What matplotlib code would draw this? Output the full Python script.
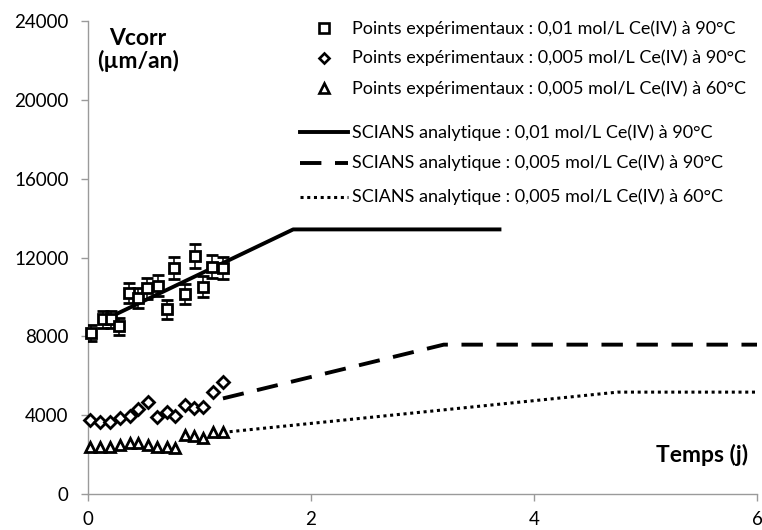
import matplotlib
matplotlib.use("Agg")
import matplotlib.pyplot as plt

plt.rcParams['font.family'] = ['Lato', 'DejaVu Sans']

# Experimental points
t_sq = [0.03, 0.13, 0.21, 0.28, 0.37, 0.45, 0.53, 0.63, 0.71, 0.77, 0.87, 0.96, 1.03, 1.11, 1.21]
v_sq = [8190, 8860, 8860, 8520, 10180, 9960, 10440, 10570, 9370, 11480, 10150, 12080, 10520, 11530, 11480]
e_sq = [410, 440, 440, 430, 510, 500, 520, 530, 470, 570, 510, 600, 530, 580, 570]

t_di = [0.02, 0.11, 0.20, 0.29, 0.38, 0.45, 0.54, 0.62, 0.71, 0.78, 0.87, 0.95, 1.03, 1.12, 1.21]
v_di = [3760, 3670, 3670, 3840, 3960, 4300, 4690, 3920, 4180, 3960, 4520, 4350, 4400, 5190, 5670]

t_tr = [0.02, 0.11, 0.20, 0.29, 0.38, 0.45, 0.54, 0.62, 0.71, 0.78, 0.87, 0.95, 1.03, 1.12, 1.21]
v_tr = [2400, 2400, 2400, 2490, 2570, 2570, 2490, 2370, 2370, 2320, 2990, 2940, 2830, 3160, 3160]

# Analytical model (SCIANS)
t_m1 = [0.26, 1.84, 3.69]
v_m1 = [9150, 13430, 13430]
t_m2 = [1.21, 3.19, 6.0]
v_m2 = [4850, 7580, 7580]
t_m3 = [1.27, 4.75, 6.0]
v_m3 = [3160, 5170, 5170]

legend_labels = [
    "Points expérimentaux : 0,01 mol/L Ce(IV) à 90°C",
    "Points expérimentaux : 0,005 mol/L Ce(IV) à 90°C",
    "Points expérimentaux : 0,005 mol/L Ce(IV) à 60°C",
    "SCIANS analytique : 0,01 mol/L Ce(IV) à 90°C",
    "SCIANS analytique : 0,005 mol/L Ce(IV) à 90°C",
    "SCIANS analytique : 0,005 mol/L Ce(IV) à 60°C",
]

x_ticks = [0, 2, 4, 6]
y_ticks = [0, 4000, 8000, 12000, 16000, 20000, 24000]

SOLID = '-'
DASH = (0, (5.5, 3.5))
DOT = (0, (1, 1.2))

fig = plt.figure(figsize=(7.62, 5.30), dpi=100)
ax = fig.add_axes([0.1155, 0.068, 0.878, 0.892])

ax.plot(t_m1, v_m1, color='black', lw=2.8, ls=SOLID, zorder=2)
ax.plot(t_m2, v_m2, color='black', lw=2.8, ls=DASH, zorder=2)
ax.plot(t_m3, v_m3, color='black', lw=2.2, ls=DOT, zorder=2)

eb = ax.errorbar(t_sq, v_sq, yerr=e_sq, fmt='s', ms=7.5, mfc='white', mec='black', mew=2,
                 ecolor='black', elinewidth=1.1, capsize=4, capthick=1.1, zorder=3)
eb.lines[0].set_clip_on(False)
ax.plot(t_di, v_di, 'D', ms=6.3, mfc='white', mec='black', mew=2, zorder=3, clip_on=False)
ax.plot(t_tr, v_tr, '^', ms=7.5, mfc='white', mec='black', mew=2, zorder=3, clip_on=False)

ax.set_xlim(0, 6)
ax.set_ylim(0, 24000)
ax.set_xticks(x_ticks)
ax.set_yticks(y_ticks)
ax.set_xticklabels([str(v) for v in x_ticks])
ax.set_yticklabels([str(v) for v in y_ticks])
for s in ['top', 'right']:
    ax.spines[s].set_visible(False)
for s in ['left', 'bottom']:
    ax.spines[s].set_color('#9a9a9a')
    ax.spines[s].set_linewidth(1)
ax.tick_params(axis='both', colors='#9a9a9a', length=5, width=1, labelsize=13.5, labelcolor='black')
ax.tick_params(axis='x', pad=7)
ax.tick_params(axis='y', pad=9)

ax.text(0.075, 0.985, "Vcorr\n(µm/an)", transform=ax.transAxes, fontsize=16.5, fontweight='bold',
        va='top', ha='center', linespacing=1.05, multialignment='center')
ax.text(0.987, 0.082, "Temps (j)", transform=ax.transAxes, fontsize=16.5, fontweight='bold',
        va='center', ha='right')

# Manual legend
rows_y = [0.985, 0.922, 0.858, 0.765, 0.700, 0.628]
mk = [('s', 6.5), ('D', 5.3), ('^', 6.5)]
for i in range(3):
    ax.plot([0.353], [rows_y[i]], mk[i][0], ms=mk[i][1], mfc='white', mec='black', mew=1.9,
            transform=ax.transAxes, clip_on=False)
    ax.text(0.395, rows_y[i], legend_labels[i], transform=ax.transAxes, fontsize=13, va='center')
styles = [(SOLID, 2.8), (DASH, 2.8), (DOT, 2.2)]
for j in range(3):
    ax.plot([0.317, 0.389], [rows_y[3 + j]] * 2, color='black', ls=styles[j][0], lw=styles[j][1],
            transform=ax.transAxes, clip_on=False)
    ax.text(0.395, rows_y[3 + j], legend_labels[3 + j], transform=ax.transAxes, fontsize=13, va='center')

fig.savefig("out.png", dpi=100)
